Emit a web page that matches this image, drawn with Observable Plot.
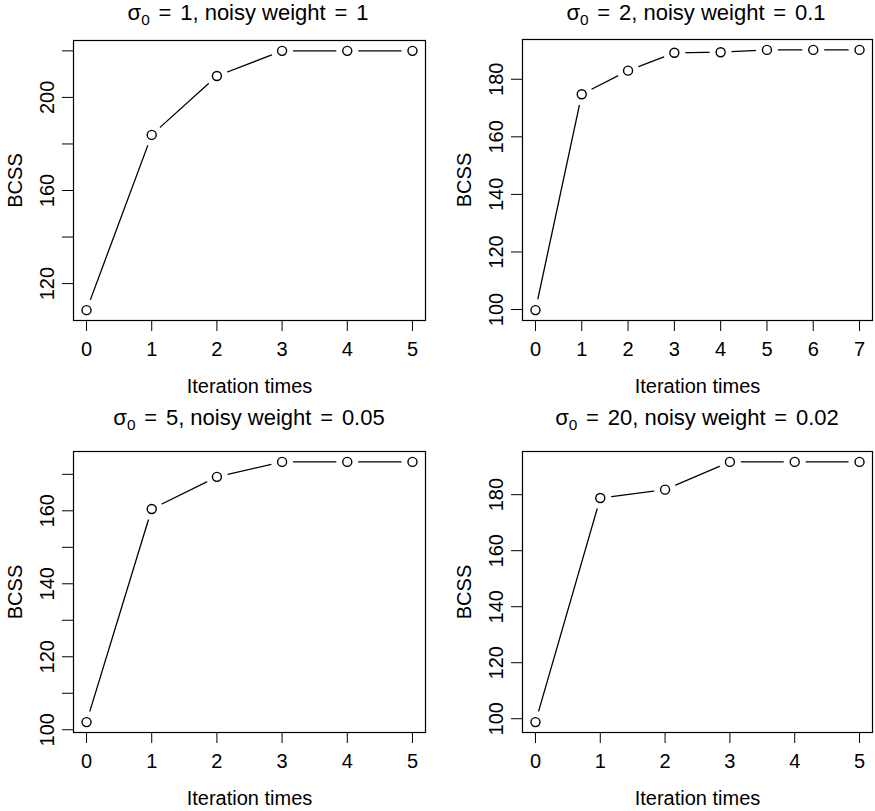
<!DOCTYPE html>
<html><head><meta charset="utf-8">
<script src="https://cdn.jsdelivr.net/npm/d3@7"></script>
<script src="https://cdn.jsdelivr.net/npm/@observablehq/plot@0.6"></script>
<style>
body{margin:0;background:#fff;}
#root{position:relative;width:875px;height:811px;overflow:hidden;font-family:"Liberation Sans",Arial,Helvetica,sans-serif;color:#000;}
.svgwrap{position:absolute;}
.title{position:absolute;white-space:nowrap;font-size:22px;line-height:1;transform:translate(-50%,-50%);}
.title sub{font-size:0.7em;vertical-align:-0.3em;line-height:0;}
.title .eq{margin:0 0.4em;}
</style></head><body><div id="root"></div>
<script>
// ---- data ----
const iterA = [0, 1, 2, 3, 4, 5];
const iterB = [0, 1, 2, 3, 4, 5, 6, 7];
const bcss1 = [108.6, 183.9, 209.2, 220.0, 220.0, 220.0];
const bcss2 = [99.8, 174.8, 183.0, 189.2, 189.4, 190.2, 190.2, 190.2];
const bcss3 = [102.1, 160.5, 169.3, 173.4, 173.4, 173.4];
const bcss4 = [98.8, 178.8, 181.8, 191.7, 191.7, 191.7];
const sigma0 = [1, 2, 5, 20];
const noisyWeight = ["1", "0.1", "0.05", "0.02"];
const yTicks1 = [120, 140, 160, 180, 200, 220];
const yLabels1 = [120, 160, 200];
const yTicks2 = [100, 120, 140, 160, 180];
const yLabels2 = [100, 120, 140, 160, 180];
const yTicks3 = [100, 110, 120, 130, 140, 150, 160, 170];
const yLabels3 = [100, 120, 140, 160];
const yTicks4 = [100, 120, 140, 160, 180];
const yLabels4 = [100, 120, 140, 160, 180];
const xLabel = "Iteration times";
const yLabel = "BCSS";

// ---- layout ----
const layout = [
  {left: 0,   top: 26,  width: 437, height: 374, mL: 73, mR: 12, mT: 14, mB: 80, tx: 248, ty: 13},
  {left: 437, top: 26,  width: 438, height: 374, mL: 85, mR: 3,  mT: 13, mB: 80, tx: 696, ty: 13},
  {left: 0,   top: 430, width: 437, height: 381, mL: 73, mR: 12, mT: 21, mB: 79, tx: 249, ty: 418},
  {left: 437, top: 430, width: 438, height: 381, mL: 85, mR: 3,  mT: 21, mB: 79, tx: 697, ty: 418}
];
const series = [
  {x: iterA, y: bcss1, yt: yTicks1, yl: yLabels1},
  {x: iterB, y: bcss2, yt: yTicks2, yl: yLabels2},
  {x: iterA, y: bcss3, yt: yTicks3, yl: yLabels3},
  {x: iterA, y: bcss4, yt: yTicks4, yl: yLabels4}
];

function pad(ext) { const d = (ext[1] - ext[0]) * 0.04; return [ext[0] - d, ext[1] + d]; }

const root = document.getElementById("root");
series.forEach((s, i) => {
  const L = layout[i];
  const data = s.x.map((x, k) => ({iter: x, bcss: s.y[k]}));
  const chart = Plot.plot({
    width: L.width, height: L.height,
    marginLeft: L.mL, marginRight: L.mR, marginTop: L.mT, marginBottom: L.mB,
    style: {fontFamily: '"Liberation Sans", Arial, Helvetica, sans-serif', fontSize: "20px", background: "white", color: "#000", overflow: "visible"},
    x: {domain: pad(d3.extent(s.x))},
    y: {domain: pad(d3.extent(s.y))},
    marks: [
      Plot.axisX({ticks: s.x, tickSize: 11, tickPadding: 10, tickFormat: d => String(d), label: xLabel, labelAnchor: "center", labelArrow: "none", labelOffset: 72, fontSize: 20}),
      Plot.axisY({ticks: s.yt, tickSize: 11, tickPadding: 9, tickRotate: -90, tickFormat: d => s.yl.includes(d) ? String(d) : "", label: yLabel, labelAnchor: "center", labelArrow: "none", labelOffset: 66, fontSize: 20}),
      Plot.line(data, {x: "iter", y: "bcss", stroke: "#000", strokeWidth: 1.3}),
      Plot.dot(data, {x: "iter", y: "bcss", r: 11, fill: "white", stroke: null}),
      Plot.dot(data, {x: "iter", y: "bcss", r: 4.5, fill: "white", stroke: "#000", strokeWidth: 1.4}),
      Plot.frame({stroke: "#000", strokeWidth: 1.2})
    ]
  });
  const wrap = document.createElement("div");
  wrap.className = "svgwrap";
  wrap.style.left = L.left + "px";
  wrap.style.top = L.top + "px";
  wrap.appendChild(chart);
  root.appendChild(wrap);

  const t = document.createElement("div");
  t.className = "title";
  t.style.left = L.tx + "px";
  t.style.top = L.ty + "px";
  t.innerHTML = `σ<sub>0</sub><span class="eq">=</span>${sigma0[i]}, noisy weight<span class="eq">=</span>${noisyWeight[i]}`;
  root.appendChild(t);
});
</script>
</body></html>
